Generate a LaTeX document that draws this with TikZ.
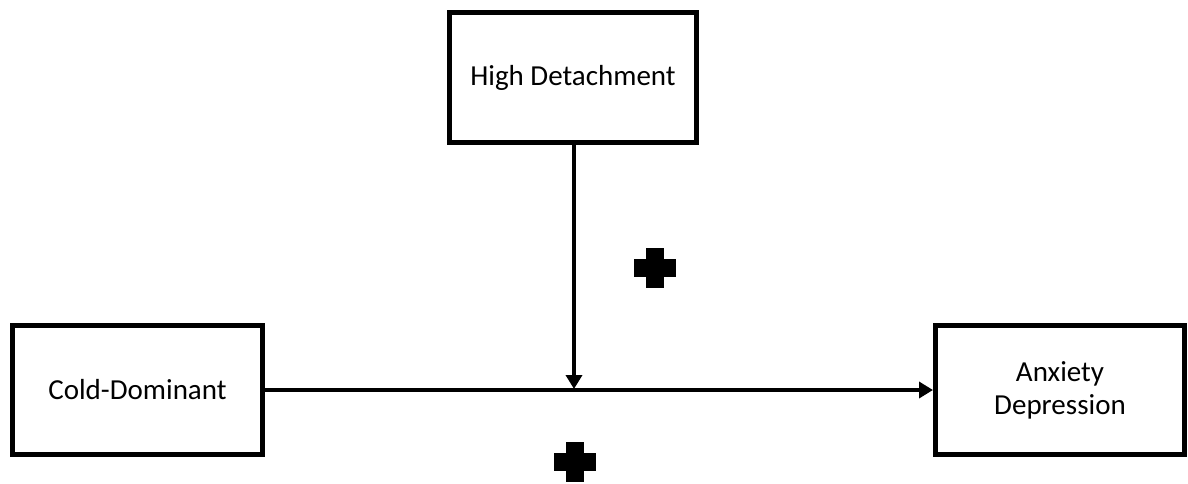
\documentclass[tikz,border=0pt]{standalone}
\usepackage{fontspec}
\setmainfont{Carlito}
\usetikzlibrary{arrows.meta}
\begin{document}
\begin{tikzpicture}[x=1pt,y=-1pt,
  varbox/.style={draw=black, line width=5pt, fill=white, inner sep=0pt,
    align=center, font=\fontsize{29}{33}\selectfont},
  link/.style={line width=4pt, -{Triangle[width=16pt,length=14pt]}},
  plusmark/.style={fill=black}]
  \useasboundingbox (0,0) rectangle (1188,483);
  % variables
  \node[varbox, minimum width=247pt, minimum height=130pt] (detach) at (573,77.5) {High Detachment};
  \node[varbox, minimum width=250pt, minimum height=129pt] (cold) at (137.5,390) {Cold-Dominant};
  \node[varbox, minimum width=249pt, minimum height=129pt] (anx) at (1060,390) {Anxiety\\Depression};
  % main path and moderation
  \draw[link] (cold.east) -- (anx.west);
  \coordinate (meet) at (574,389);
  \draw[link] (detach.south -| meet) -- (meet);
  % plus signs
  \coordinate (plusA) at (655,268);
  \coordinate (plusB) at (575,462);
  \foreach \p in {plusA,plusB}{
    \fill[plusmark] ([xshift=-21pt,yshift=9pt]\p) rectangle ([xshift=21pt,yshift=-9pt]\p);
    \fill[plusmark] ([xshift=-9pt,yshift=20pt]\p) rectangle ([xshift=9pt,yshift=-20pt]\p);
  }
\end{tikzpicture}
\end{document}
